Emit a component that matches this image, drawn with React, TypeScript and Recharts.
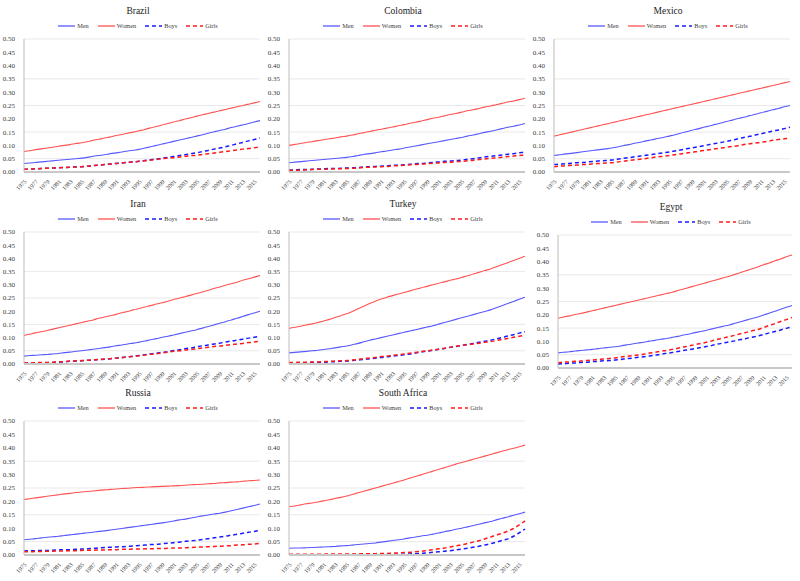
import { CartesianGrid, Line, LineChart, XAxis, YAxis } from 'recharts';

const YEARS = [
  '1975', '1976', '1977', '1978', '1979', '1980', '1981', '1982', '1983', '1984',
  '1985', '1986', '1987', '1988', '1989', '1990', '1991', '1992', '1993', '1994',
  '1995', '1996', '1997', '1998', '1999', '2000', '2001', '2002', '2003', '2004',
  '2005', '2006', '2007', '2008', '2009', '2010', '2011', '2012', '2013', '2014',
  '2015', '2016',
];
const Y_TICKS = [0, 0.05, 0.1, 0.15, 0.2, 0.25, 0.3, 0.35, 0.4, 0.45, 0.5];
const SERIES_NAMES = ['Men', 'Women', 'Boys', 'Girls'];

// Brazil
const brazilMen = [
  0.032, 0.034, 0.036, 0.038, 0.040, 0.042, 0.044, 0.046, 0.048, 0.050, 0.052,
  0.055, 0.059, 0.062, 0.065, 0.069, 0.072, 0.075, 0.079, 0.082, 0.085,
  0.090, 0.095, 0.100, 0.105, 0.110, 0.115, 0.120, 0.125, 0.130, 0.135,
  0.140, 0.146, 0.151, 0.156, 0.161, 0.167, 0.172, 0.177, 0.182, 0.188, 0.193,
];
const brazilWomen = [
  0.077, 0.080, 0.084, 0.087, 0.090, 0.093, 0.097, 0.100, 0.103, 0.107, 0.110,
  0.114, 0.119, 0.123, 0.128, 0.132, 0.137, 0.141, 0.146, 0.150, 0.155,
  0.160, 0.166, 0.171, 0.177, 0.182, 0.188, 0.193, 0.199, 0.204, 0.210,
  0.215, 0.220, 0.225, 0.230, 0.235, 0.240, 0.245, 0.250, 0.255, 0.260, 0.265,
];
const brazilBoys = [
  0.010, 0.011, 0.012, 0.013, 0.014, 0.015, 0.016, 0.017, 0.018, 0.019, 0.020,
  0.022, 0.024, 0.026, 0.028, 0.030, 0.032, 0.034, 0.036, 0.038, 0.040,
  0.043, 0.046, 0.049, 0.052, 0.055, 0.058, 0.062, 0.065, 0.069, 0.072,
  0.077, 0.081, 0.086, 0.090, 0.095, 0.100, 0.106, 0.111, 0.117, 0.122, 0.128,
];
const brazilGirls = [
  0.010, 0.011, 0.012, 0.013, 0.014, 0.015, 0.016, 0.017, 0.018, 0.019, 0.020,
  0.022, 0.024, 0.026, 0.028, 0.030, 0.032, 0.034, 0.036, 0.038, 0.040,
  0.042, 0.045, 0.047, 0.050, 0.052, 0.054, 0.056, 0.059, 0.061, 0.063,
  0.066, 0.069, 0.071, 0.074, 0.077, 0.080, 0.083, 0.086, 0.088, 0.091, 0.094,
];

// Colombia
const colombiaMen = [
  0.035, 0.037, 0.039, 0.041, 0.043, 0.045, 0.047, 0.049, 0.051, 0.053, 0.055,
  0.058, 0.062, 0.066, 0.069, 0.072, 0.076, 0.079, 0.083, 0.086, 0.090,
  0.094, 0.098, 0.102, 0.106, 0.110, 0.114, 0.118, 0.122, 0.126, 0.130,
  0.135, 0.139, 0.144, 0.149, 0.153, 0.158, 0.163, 0.168, 0.172, 0.177, 0.182,
];
const colombiaWomen = [
  0.100, 0.104, 0.107, 0.111, 0.114, 0.118, 0.121, 0.125, 0.128, 0.132, 0.135,
  0.139, 0.144, 0.148, 0.152, 0.157, 0.161, 0.165, 0.169, 0.174, 0.178,
  0.183, 0.187, 0.192, 0.197, 0.202, 0.206, 0.211, 0.216, 0.220, 0.225,
  0.230, 0.234, 0.239, 0.244, 0.248, 0.253, 0.258, 0.263, 0.267, 0.272, 0.277,
];
const colombiaBoys = [
  0.007, 0.008, 0.009, 0.009, 0.010, 0.011, 0.012, 0.013, 0.013, 0.014, 0.015,
  0.016, 0.017, 0.019, 0.020, 0.021, 0.022, 0.023, 0.025, 0.026, 0.027,
  0.029, 0.031, 0.032, 0.034, 0.036, 0.038, 0.040, 0.041, 0.043, 0.045,
  0.048, 0.050, 0.053, 0.056, 0.059, 0.061, 0.064, 0.067, 0.069, 0.072, 0.075,
];
const colombiaGirls = [
  0.006, 0.007, 0.007, 0.008, 0.009, 0.010, 0.010, 0.011, 0.012, 0.012, 0.013,
  0.014, 0.015, 0.017, 0.018, 0.019, 0.020, 0.021, 0.023, 0.024, 0.025,
  0.027, 0.028, 0.030, 0.031, 0.033, 0.034, 0.036, 0.037, 0.039, 0.040,
  0.042, 0.044, 0.047, 0.049, 0.051, 0.053, 0.055, 0.058, 0.060, 0.062, 0.064,
];

// Mexico
const mexicoMen = [
  0.062, 0.065, 0.068, 0.070, 0.073, 0.076, 0.079, 0.082, 0.084, 0.087, 0.090,
  0.094, 0.099, 0.103, 0.108, 0.112, 0.117, 0.121, 0.126, 0.130, 0.135,
  0.140, 0.146, 0.151, 0.157, 0.162, 0.168, 0.173, 0.179, 0.184, 0.190,
  0.195, 0.201, 0.206, 0.212, 0.217, 0.223, 0.228, 0.234, 0.239, 0.245, 0.250,
];
const mexicoWomen = [
  0.135, 0.140, 0.145, 0.150, 0.155, 0.160, 0.165, 0.170, 0.175, 0.180, 0.185,
  0.190, 0.195, 0.200, 0.205, 0.210, 0.215, 0.220, 0.225, 0.230, 0.235,
  0.240, 0.245, 0.250, 0.255, 0.260, 0.265, 0.270, 0.275, 0.280, 0.285,
  0.290, 0.295, 0.300, 0.305, 0.310, 0.315, 0.320, 0.325, 0.330, 0.335, 0.340,
];
const mexicoBoys = [
  0.028, 0.030, 0.031, 0.033, 0.035, 0.036, 0.038, 0.040, 0.042, 0.043, 0.045,
  0.048, 0.051, 0.054, 0.057, 0.060, 0.063, 0.066, 0.069, 0.072, 0.075,
  0.079, 0.083, 0.087, 0.091, 0.095, 0.099, 0.103, 0.107, 0.111, 0.115,
  0.120, 0.125, 0.130, 0.134, 0.139, 0.144, 0.149, 0.154, 0.158, 0.163, 0.168,
];
const mexicoGirls = [
  0.020, 0.022, 0.023, 0.025, 0.026, 0.028, 0.029, 0.031, 0.032, 0.034, 0.035,
  0.038, 0.040, 0.043, 0.046, 0.048, 0.051, 0.054, 0.057, 0.059, 0.062,
  0.065, 0.068, 0.071, 0.074, 0.078, 0.081, 0.084, 0.087, 0.090, 0.093,
  0.096, 0.099, 0.103, 0.106, 0.109, 0.112, 0.115, 0.119, 0.122, 0.125, 0.128,
];

// Iran
const iranMen = [
  0.030, 0.032, 0.033, 0.035, 0.036, 0.038, 0.040, 0.043, 0.045, 0.048, 0.050,
  0.053, 0.056, 0.059, 0.062, 0.065, 0.069, 0.072, 0.076, 0.079, 0.083,
  0.087, 0.092, 0.096, 0.101, 0.105, 0.110, 0.115, 0.120, 0.125, 0.130,
  0.136, 0.142, 0.148, 0.154, 0.160, 0.167, 0.173, 0.180, 0.187, 0.193, 0.200,
];
const iranWomen = [
  0.108, 0.113, 0.118, 0.122, 0.127, 0.132, 0.137, 0.142, 0.147, 0.152, 0.157,
  0.162, 0.167, 0.173, 0.178, 0.183, 0.188, 0.194, 0.199, 0.205, 0.210,
  0.216, 0.221, 0.227, 0.232, 0.238, 0.244, 0.250, 0.255, 0.261, 0.267,
  0.273, 0.279, 0.286, 0.292, 0.298, 0.304, 0.310, 0.317, 0.323, 0.329, 0.335,
];
const iranBoys = [
  0.003, 0.004, 0.004, 0.005, 0.005, 0.006, 0.007, 0.008, 0.010, 0.011, 0.012,
  0.014, 0.015, 0.017, 0.018, 0.020, 0.022, 0.025, 0.027, 0.030, 0.032,
  0.035, 0.038, 0.041, 0.044, 0.047, 0.051, 0.054, 0.058, 0.061, 0.065,
  0.069, 0.072, 0.076, 0.079, 0.083, 0.087, 0.090, 0.094, 0.098, 0.101, 0.105,
];
const iranGirls = [
  0.004, 0.005, 0.005, 0.006, 0.006, 0.007, 0.008, 0.009, 0.011, 0.012, 0.013,
  0.014, 0.016, 0.017, 0.019, 0.020, 0.022, 0.024, 0.027, 0.029, 0.031,
  0.034, 0.037, 0.039, 0.042, 0.045, 0.048, 0.050, 0.053, 0.055, 0.058,
  0.061, 0.063, 0.066, 0.068, 0.071, 0.073, 0.076, 0.078, 0.081, 0.083, 0.086,
];

// Turkey
const turkeyMen = [
  0.042, 0.044, 0.046, 0.048, 0.050, 0.052, 0.055, 0.058, 0.061, 0.065, 0.068,
  0.073, 0.078, 0.084, 0.090, 0.095, 0.100, 0.105, 0.110, 0.115, 0.120,
  0.125, 0.130, 0.135, 0.140, 0.145, 0.151, 0.157, 0.163, 0.169, 0.175,
  0.181, 0.187, 0.193, 0.199, 0.205, 0.213, 0.221, 0.229, 0.237, 0.245, 0.253,
];
const turkeyWomen = [
  0.135, 0.139, 0.143, 0.148, 0.152, 0.157, 0.163, 0.169, 0.176, 0.183, 0.190,
  0.199, 0.209, 0.219, 0.229, 0.238, 0.246, 0.253, 0.259, 0.265, 0.271,
  0.277, 0.283, 0.289, 0.294, 0.300, 0.306, 0.311, 0.317, 0.322, 0.328,
  0.334, 0.341, 0.347, 0.354, 0.360, 0.368, 0.376, 0.384, 0.392, 0.400, 0.408,
];
const turkeyBoys = [
  0.004, 0.004, 0.005, 0.005, 0.006, 0.006, 0.007, 0.008, 0.009, 0.010, 0.011,
  0.013, 0.015, 0.017, 0.020, 0.022, 0.025, 0.027, 0.030, 0.032, 0.035,
  0.038, 0.042, 0.045, 0.049, 0.052, 0.056, 0.059, 0.063, 0.066, 0.070,
  0.074, 0.078, 0.082, 0.086, 0.090, 0.095, 0.100, 0.106, 0.111, 0.117, 0.122,
];
const turkeyGirls = [
  0.006, 0.006, 0.007, 0.007, 0.008, 0.008, 0.009, 0.010, 0.011, 0.012, 0.013,
  0.015, 0.018, 0.020, 0.023, 0.025, 0.028, 0.030, 0.033, 0.035, 0.038,
  0.041, 0.044, 0.047, 0.050, 0.053, 0.056, 0.060, 0.063, 0.067, 0.070,
  0.073, 0.076, 0.079, 0.082, 0.085, 0.089, 0.093, 0.097, 0.101, 0.105, 0.109,
];

// Egypt
const egyptMen = [
  0.057, 0.059, 0.061, 0.064, 0.066, 0.068, 0.070, 0.073, 0.075, 0.078, 0.080,
  0.083, 0.087, 0.090, 0.094, 0.097, 0.101, 0.104, 0.108, 0.111, 0.115,
  0.119, 0.124, 0.128, 0.133, 0.137, 0.142, 0.147, 0.152, 0.157, 0.162,
  0.168, 0.174, 0.180, 0.186, 0.192, 0.199, 0.206, 0.213, 0.221, 0.228, 0.235,
];
const egyptWomen = [
  0.187, 0.192, 0.196, 0.201, 0.205, 0.210, 0.215, 0.220, 0.225, 0.230, 0.235,
  0.240, 0.245, 0.250, 0.255, 0.260, 0.265, 0.270, 0.275, 0.280, 0.285,
  0.291, 0.297, 0.303, 0.309, 0.315, 0.321, 0.327, 0.333, 0.339, 0.345,
  0.352, 0.359, 0.366, 0.373, 0.380, 0.388, 0.395, 0.403, 0.410, 0.418, 0.425,
];
const egyptBoys = [
  0.015, 0.016, 0.018, 0.019, 0.021, 0.022, 0.024, 0.025, 0.027, 0.028, 0.030,
  0.032, 0.035, 0.037, 0.040, 0.042, 0.045, 0.048, 0.052, 0.055, 0.058,
  0.062, 0.066, 0.069, 0.073, 0.077, 0.081, 0.085, 0.090, 0.094, 0.098,
  0.102, 0.107, 0.111, 0.116, 0.120, 0.126, 0.132, 0.137, 0.143, 0.149, 0.155,
];
const egyptGirls = [
  0.020, 0.022, 0.023, 0.025, 0.026, 0.028, 0.030, 0.032, 0.034, 0.036, 0.038,
  0.041, 0.044, 0.046, 0.049, 0.052, 0.056, 0.059, 0.063, 0.066, 0.070,
  0.074, 0.079, 0.083, 0.088, 0.092, 0.097, 0.102, 0.108, 0.113, 0.118,
  0.123, 0.129, 0.134, 0.140, 0.145, 0.152, 0.160, 0.167, 0.175, 0.182, 0.190,
];

// Russia
const russiaMen = [
  0.057, 0.059, 0.061, 0.064, 0.066, 0.068, 0.070, 0.073, 0.075, 0.078, 0.080,
  0.083, 0.085, 0.088, 0.090, 0.093, 0.096, 0.099, 0.102, 0.105, 0.108,
  0.111, 0.114, 0.117, 0.120, 0.123, 0.127, 0.131, 0.134, 0.138, 0.142,
  0.146, 0.149, 0.153, 0.156, 0.160, 0.165, 0.170, 0.175, 0.180, 0.185, 0.190,
];
const russiaWomen = [
  0.207, 0.210, 0.213, 0.216, 0.219, 0.222, 0.225, 0.228, 0.230, 0.233, 0.235,
  0.237, 0.239, 0.241, 0.243, 0.245, 0.246, 0.248, 0.249, 0.251, 0.252,
  0.253, 0.254, 0.255, 0.256, 0.257, 0.258, 0.259, 0.260, 0.262, 0.263,
  0.264, 0.266, 0.267, 0.269, 0.270, 0.272, 0.273, 0.275, 0.277, 0.278, 0.280,
];
const russiaBoys = [
  0.015, 0.016, 0.016, 0.017, 0.017, 0.018, 0.019, 0.020, 0.020, 0.021, 0.022,
  0.023, 0.025, 0.026, 0.028, 0.029, 0.030, 0.031, 0.032, 0.034, 0.035,
  0.037, 0.039, 0.040, 0.042, 0.044, 0.046, 0.048, 0.051, 0.053, 0.055,
  0.058, 0.061, 0.064, 0.067, 0.070, 0.074, 0.077, 0.081, 0.085, 0.088, 0.092,
];
const russiaGirls = [
  0.012, 0.012, 0.013, 0.013, 0.014, 0.014, 0.015, 0.015, 0.016, 0.016, 0.017,
  0.018, 0.018, 0.019, 0.019, 0.020, 0.020, 0.021, 0.021, 0.022, 0.022,
  0.023, 0.023, 0.024, 0.024, 0.025, 0.026, 0.026, 0.027, 0.028, 0.029,
  0.030, 0.031, 0.032, 0.033, 0.034, 0.035, 0.037, 0.038, 0.040, 0.041, 0.043,
];

// South Africa
const southAfricaMen = [
  0.025, 0.026, 0.026, 0.027, 0.028, 0.029, 0.030, 0.031, 0.032, 0.034, 0.035,
  0.037, 0.039, 0.041, 0.043, 0.045, 0.048, 0.051, 0.054, 0.057, 0.060,
  0.064, 0.067, 0.071, 0.074, 0.078, 0.082, 0.087, 0.091, 0.096, 0.100,
  0.105, 0.110, 0.115, 0.120, 0.125, 0.131, 0.137, 0.142, 0.148, 0.154, 0.160,
];
const southAfricaWomen = [
  0.180, 0.183, 0.187, 0.191, 0.194, 0.198, 0.202, 0.206, 0.211, 0.215, 0.220,
  0.226, 0.232, 0.238, 0.244, 0.250, 0.256, 0.262, 0.268, 0.274, 0.280,
  0.287, 0.293, 0.300, 0.306, 0.313, 0.319, 0.326, 0.332, 0.339, 0.345,
  0.351, 0.357, 0.363, 0.369, 0.375, 0.381, 0.387, 0.393, 0.398, 0.404, 0.410,
];
const southAfricaBoys = [
  0.001, 0.001, 0.001, 0.001, 0.001, 0.001, 0.001, 0.001, 0.001, 0.001, 0.001,
  0.001, 0.002, 0.002, 0.002, 0.002, 0.002, 0.002, 0.003, 0.003, 0.003,
  0.004, 0.005, 0.006, 0.008, 0.010, 0.012, 0.014, 0.016, 0.019, 0.022,
  0.025, 0.029, 0.033, 0.037, 0.042, 0.048, 0.054, 0.060, 0.070, 0.083, 0.097,
];
const southAfricaGirls = [
  0.003, 0.003, 0.003, 0.003, 0.003, 0.003, 0.003, 0.004, 0.004, 0.004, 0.004,
  0.004, 0.004, 0.005, 0.005, 0.005, 0.006, 0.006, 0.007, 0.008, 0.009,
  0.010, 0.012, 0.014, 0.017, 0.020, 0.023, 0.026, 0.030, 0.034, 0.038,
  0.043, 0.048, 0.053, 0.060, 0.067, 0.074, 0.081, 0.089, 0.099, 0.112, 0.127,
];

const COUNTRIES = [
  { name: 'Brazil', series: [brazilMen, brazilWomen, brazilBoys, brazilGirls] },
  { name: 'Colombia', series: [colombiaMen, colombiaWomen, colombiaBoys, colombiaGirls] },
  { name: 'Mexico', series: [mexicoMen, mexicoWomen, mexicoBoys, mexicoGirls] },
  { name: 'Iran', series: [iranMen, iranWomen, iranBoys, iranGirls] },
  { name: 'Turkey', series: [turkeyMen, turkeyWomen, turkeyBoys, turkeyGirls] },
  { name: 'Egypt', series: [egyptMen, egyptWomen, egyptBoys, egyptGirls] },
  { name: 'Russia', series: [russiaMen, russiaWomen, russiaBoys, russiaGirls] },
  { name: 'South Africa', series: [southAfricaMen, southAfricaWomen, southAfricaBoys, southAfricaGirls] },
];

// plot-area placement (y-axis x, plot top, plot width, plot height)
const LAYOUT: Record<string, { x: number; top: number; w: number; h: number }> = {
  Brazil: { x: 24, top: 39, w: 236, h: 133 },
  Colombia: { x: 289, top: 39, w: 236, h: 133 },
  Mexico: { x: 554, top: 39, w: 236, h: 133 },
  Iran: { x: 24, top: 232, w: 236, h: 132 },
  Turkey: { x: 289, top: 232, w: 236, h: 132 },
  Egypt: { x: 558, top: 235, w: 234, h: 133 },
  Russia: { x: 24, top: 421, w: 236, h: 134 },
  'South Africa': { x: 289, top: 421, w: 236, h: 134 },
};

const STYLES = [
  { color: '#5858ff', width: 1.1, dash: undefined },
  { color: '#ff5252', width: 1.1, dash: undefined },
  { color: '#1a1aff', width: 1.5, dash: '4 3' },
  { color: '#ff1a1a', width: 1.5, dash: '4 3' },
];

const FONT = '"Liberation Serif", "Times New Roman", serif';
const Y_AXIS_W = 24;
const MARGIN_TOP = 4;
const X_AXIS_H = 24;

function Legend() {
  return (
    <div style={{ display: 'flex', alignItems: 'center', justifyContent: 'center', fontSize: 6.3, color: '#404040' }}>
      {SERIES_NAMES.map((n, i) => (
        <span key={n} style={{ display: 'inline-flex', alignItems: 'center', marginRight: i < 3 ? 9 : 0 }}>
          <svg width={17} height={4}>
            <line x1={0} x2={17} y1={2} y2={2} stroke={STYLES[i].color} strokeWidth={STYLES[i].width + 0.2} strokeDasharray={STYLES[i].dash} />
          </svg>
          <span style={{ marginLeft: 2 }}>{n}</span>
        </span>
      ))}
    </div>
  );
}

function Panel({ name, series }: { name: string; series: number[][] }) {
  const { x, top, w, h } = LAYOUT[name];
  const keys = ['men', 'women', 'boys', 'girls'];
  const data = YEARS.map((year, i) => ({
    year,
    men: series[0][i],
    women: series[1][i],
    boys: series[2][i],
    girls: series[3][i],
  }));
  const cw = Y_AXIS_W + w + 4;
  const center = x + w / 2 - 4;
  return (
    <>
      <div style={{ position: 'absolute', left: center - 100, width: 200, top: top - 34, textAlign: 'center', fontSize: 9.5, color: '#222', lineHeight: '12px' }}>
        {name}
      </div>
      <div style={{ position: 'absolute', left: center - 110, width: 220, top: top - 17, lineHeight: '8px' }}>
        <Legend />
      </div>
      <div style={{ position: 'absolute', left: x - Y_AXIS_W, top: top - MARGIN_TOP }}>
        <LineChart width={cw} height={MARGIN_TOP + h + X_AXIS_H} data={data} margin={{ top: MARGIN_TOP, right: 4, left: 0, bottom: 0 }}>
          <CartesianGrid vertical={false} stroke="#e9e9e9" strokeWidth={1} />
          <XAxis
            dataKey="year"
            interval={1}
            angle={-45}
            textAnchor="end"
            height={X_AXIS_H}
            tickLine={false}
            tickMargin={1}
            axisLine={{ stroke: '#c8c8c8', strokeWidth: 2 }}
            tick={{ fontSize: 6, fill: '#404040', fontFamily: FONT }}
          />
          <YAxis
            domain={[0, 0.5]}
            ticks={Y_TICKS}
            width={Y_AXIS_W}
            tickFormatter={(v: number) => v.toFixed(2)}
            tickLine={false}
            tickMargin={3}
            axisLine={{ stroke: '#bdbdbd', strokeWidth: 1 }}
            tick={{ fontSize: 7, fill: '#404040', fontFamily: FONT }}
          />
          {keys.map((k, i) => (
            <Line
              key={k}
              dataKey={k}
              type="monotone"
              stroke={STYLES[i].color}
              strokeWidth={STYLES[i].width}
              strokeDasharray={STYLES[i].dash}
              dot={false}
              activeDot={false}
              isAnimationActive={false}
            />
          ))}
        </LineChart>
      </div>
    </>
  );
}

export default function App() {
  return (
    <div style={{ position: 'absolute', left: 0, top: 0, width: 800, height: 581, background: '#fff', fontFamily: FONT }}>
      {COUNTRIES.map((c) => (
        <Panel key={c.name} name={c.name} series={c.series} />
      ))}
    </div>
  );
}
